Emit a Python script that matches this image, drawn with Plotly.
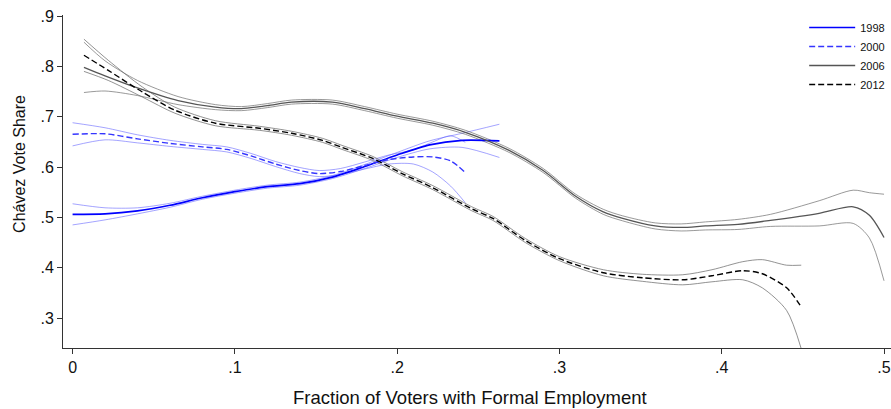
import plotly.graph_objects as go

# ---- data ----
x98 = [0.000, 0.02, 0.04, 0.06, 0.08, 0.10, 0.12, 0.14, 0.16, 0.18, 0.20, 0.22, 0.24, 0.263]
y98 = [0.506, 0.507, 0.513, 0.524, 0.539, 0.551, 0.561, 0.567, 0.580, 0.601, 0.624, 0.644, 0.653, 0.652]
ci98 = [0.021, 0.012, 0.006, 0.004, 0.003, 0.003, 0.003, 0.003, 0.003, 0.004, 0.005, 0.008, 0.014, 0.033]

x00 = [0.000, 0.02, 0.04, 0.06, 0.08, 0.095, 0.11, 0.125, 0.14, 0.152, 0.165, 0.18, 0.195, 0.21, 0.222, 0.233, 0.242]
y00 = [0.665, 0.666, 0.656, 0.647, 0.640, 0.635, 0.622, 0.606, 0.593, 0.587, 0.591, 0.603, 0.615, 0.620, 0.620, 0.612, 0.589]
ci00 = [0.023, 0.012, 0.008, 0.006, 0.005, 0.005, 0.005, 0.005, 0.006, 0.006, 0.006, 0.007, 0.009, 0.014, 0.030, 0.050, 0.060]

x06 = [0.007, 0.02, 0.04, 0.065, 0.088, 0.104, 0.12, 0.135, 0.16, 0.18, 0.20, 0.222, 0.242, 0.269,
       0.29, 0.31, 0.327, 0.339, 0.359, 0.375, 0.39, 0.41, 0.43, 0.46, 0.481, 0.491, 0.50]
y06 = [0.798, 0.781, 0.757, 0.732, 0.719, 0.716, 0.722, 0.729, 0.729, 0.716, 0.701, 0.687, 0.669, 0.633,
       0.593, 0.542, 0.511, 0.498, 0.483, 0.480, 0.483, 0.486, 0.494, 0.508, 0.521, 0.504, 0.460]
ci06 = [0.050, 0.030, 0.015, 0.008, 0.005, 0.004, 0.004, 0.004, 0.004, 0.004, 0.004, 0.004, 0.004, 0.004,
        0.004, 0.004, 0.005, 0.005, 0.006, 0.007, 0.008, 0.010, 0.012, 0.025, 0.033, 0.045, 0.086]

x12 = [0.007, 0.022, 0.043, 0.063, 0.088, 0.115, 0.135, 0.154, 0.166, 0.185, 0.203, 0.222, 0.246, 0.259,
       0.279, 0.30, 0.327, 0.351, 0.376, 0.394, 0.413, 0.425, 0.44, 0.449]
y12 = [0.822, 0.792, 0.749, 0.713, 0.687, 0.677, 0.667, 0.653, 0.639, 0.617, 0.587, 0.559, 0.517, 0.498,
       0.454, 0.418, 0.390, 0.380, 0.376, 0.384, 0.394, 0.388, 0.360, 0.322]
ci12 = [0.032, 0.020, 0.010, 0.006, 0.005, 0.004, 0.004, 0.004, 0.004, 0.004, 0.004, 0.004, 0.004, 0.004,
        0.004, 0.004, 0.006, 0.007, 0.010, 0.012, 0.018, 0.028, 0.045, 0.083]

xticks = [0, 0.1, 0.2, 0.3, 0.4, 0.5]
xticklabels = ["0", ".1", ".2", ".3", ".4", ".5"]
yticks = [0.3, 0.4, 0.5, 0.6, 0.7, 0.8, 0.9]
yticklabels = [".3", ".4", ".5", ".6", ".7", ".8", ".9"]

series = [
    ("1998", x98, y98, ci98, "#0000ff", "solid", 1.7, "rgba(90,90,255,0.55)"),
    ("2000", x00, y00, ci00, "#3535ff", "6px,3px", 1.4, "rgba(90,90,255,0.55)"),
    ("2006", x06, y06, ci06, "#555555", "solid", 1.3, "rgba(110,110,110,0.7)"),
    ("2012", x12, y12, ci12, "#000000", "6px,3px", 1.4, "rgba(110,110,110,0.75)"),
]

FONT = "Liberation Sans, Arial, Helvetica, sans-serif"

fig = go.Figure()

# confidence bands (upper/lower lines)
for name, xs, ys, cis, col, dash, w, cicol in series:
    up = [y + c for y, c in zip(ys, cis)]
    lo = [y - c for y, c in zip(ys, cis)]
    for band in (up, lo):
        fig.add_trace(go.Scatter(x=xs, y=band, mode="lines", showlegend=False, hoverinfo="skip",
                                 line=dict(color=cicol, width=1, shape="spline", smoothing=0.8)))

# main lines
for name, xs, ys, cis, col, dash, w, cicol in series:
    fig.add_trace(go.Scatter(x=xs, y=ys, mode="lines", name=name,
                             line=dict(color=col, width=w, dash=dash, shape="spline", smoothing=0.8)))

axis_common = dict(showgrid=False, zeroline=False, showline=True, linecolor="#333333", linewidth=1,
                   ticks="outside", ticklen=5, tickcolor="#333333", tickwidth=1,
                   tickfont=dict(family=FONT, size=16, color="#111111"))

fig.update_layout(
    width=891, height=409,
    margin=dict(l=63, r=0, t=15, b=61),
    paper_bgcolor="white", plot_bgcolor="white",
    font=dict(family=FONT, color="#111111"),
    xaxis=dict(range=[-0.0059, 0.5043], tickvals=xticks, ticktext=xticklabels, **axis_common),
    yaxis=dict(range=[0.2405, 0.902], tickvals=yticks, ticktext=yticklabels, **axis_common),
    legend=dict(x=0.999, xanchor="right", y=1.006, yanchor="top", bgcolor="rgba(0,0,0,0)",
                font=dict(family=FONT, size=11, color="#111111"), itemwidth=46,
                tracegroupgap=0, borderwidth=0),
    annotations=[
        dict(text="Fraction of Voters with Formal Employment", xref="paper", yref="paper",
             x=0.4915, y=-0.112, xanchor="center", yanchor="top", showarrow=False,
             font=dict(family=FONT, size=18.5, color="#111111")),
        dict(text="Chávez Vote Share", xref="paper", yref="paper", x=-0.052, y=0.5526,
             xanchor="center", yanchor="middle", textangle=-90, showarrow=False,
             font=dict(family=FONT, size=16, color="#111111")),
    ],
)

fig.write_html("out.html")
